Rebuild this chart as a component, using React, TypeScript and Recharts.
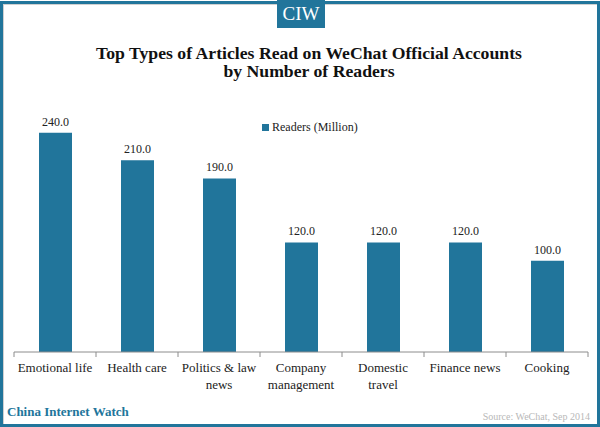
import React from 'react';
import { BarChart, Bar, XAxis, YAxis, Legend, LabelList } from 'recharts';

const categories = [
  'Emotional life',
  'Health care',
  'Politics & law news',
  'Company management',
  'Domestic travel',
  'Finance news',
  'Cooking',
];
// tick labels as they wrap in the original
const tickLabels = [
  ['Emotional life'],
  ['Health care'],
  ['Politics & law', 'news'],
  ['Company', 'management'],
  ['Domestic', 'travel'],
  ['Finance news'],
  ['Cooking'],
];
const readers = [240, 210, 190, 120, 120, 120, 100];

const data = categories.map((name, i) => ({ name, readers: readers[i] }));

const TEAL = '#21759b';
const SERIF = '"Liberation Serif", "Times New Roman", serif';

const CategoryTick = (props: any) => {
  const { x, y, payload, index, visibleTicksCount } = props;
  const half = payload && payload.offset ? payload.offset : 41;
  const axisY = y - 8;
  const lines = tickLabels[index] || [payload.value];
  return (
    <g>
      <line x1={x - half} x2={x - half} y1={axisY} y2={axisY + 5} stroke="#8c8c8c" />
      {index === visibleTicksCount - 1 && (
        <line x1={x + half} x2={x + half} y1={axisY} y2={axisY + 5} stroke="#8c8c8c" />
      )}
      <text
        x={x}
        y={y + 12}
        textAnchor="middle"
        style={{ fontFamily: SERIF, fontSize: 13, fill: '#222' }}
      >
        {lines.map((l, i) => (
          <tspan key={i} x={x} dy={i === 0 ? 0 : 17}>
            {l}
          </tspan>
        ))}
      </text>
    </g>
  );
};

const LegendBox = () => (
  <div style={{ display: 'flex', alignItems: 'center', fontFamily: SERIF, fontSize: 12, color: '#222' }}>
    <span style={{ width: 7, height: 7, background: TEAL, marginRight: 3, display: 'inline-block' }} />
    Readers (Million)
  </div>
);

export default function App() {
  return (
    <div style={{ position: 'absolute', left: 0, top: 0, width: 600, height: 427, background: '#fff', overflow: 'hidden' }}>
      <div
        style={{
          position: 'absolute',
          left: 0,
          top: 1,
          width: 600,
          height: 426,
          boxSizing: 'border-box',
          border: `3px solid ${TEAL}`,
          boxShadow: 'inset 1px 1px 0 #d0d0d0',
        }}
      />
      <BarChart
        width={600}
        height={427}
        data={data}
        margin={{ top: 78, right: 12, left: 14, bottom: 15 }}
        barCategoryGap={0}
        style={{ position: 'absolute', left: 0, top: 0 }}
      >
        <XAxis
          dataKey="name"
          height={60}
          interval={0}
          axisLine={{ stroke: '#8c8c8c' }}
          tickLine={false}
          tick={<CategoryTick />}
        />
        <YAxis hide domain={[0, 300]} />
        <Legend
          verticalAlign="middle"
          layout="horizontal"
          content={<LegendBox />}
          wrapperStyle={{ top: 120, left: 262, width: 'auto' }}
        />
        <Bar dataKey="readers" name="Readers (Million)" fill={TEAL} barSize={33} isAnimationActive={false}>
          <LabelList
            dataKey="readers"
            position="top"
            offset={7}
            formatter={(v: any) => Number(v).toFixed(1)}
            style={{ fontFamily: SERIF, fontSize: 12, fill: '#222' }}
          />
        </Bar>
      </BarChart>
      <div
        style={{
          position: 'absolute',
          left: 277,
          top: 0,
          width: 48,
          height: 28,
          background: TEAL,
          color: '#fff',
          fontFamily: SERIF,
          fontSize: 19,
          lineHeight: '28px',
          textAlign: 'center',
        }}
      >
        CIW
      </div>
      <div
        style={{
          position: 'absolute',
          left: 0,
          top: 44,
          width: 618,
          textAlign: 'center',
          fontFamily: SERIF,
          fontWeight: 'bold',
          fontSize: 17.7,
          lineHeight: '18px',
          color: '#111',
        }}
      >
        Top Types of Articles Read on WeChat Official Accounts
        <br />
        by Number of Readers
      </div>
      <div
        style={{
          position: 'absolute',
          left: 7,
          top: 404,
          fontFamily: SERIF,
          fontWeight: 'bold',
          fontSize: 13,
          color: TEAL,
        }}
      >
        China Internet Watch
      </div>
      <div
        style={{
          position: 'absolute',
          right: 10,
          top: 411,
          fontFamily: SERIF,
          fontSize: 10,
          color: '#b8b8b8',
        }}
      >
        Source: WeChat, Sep 2014
      </div>
    </div>
  );
}
